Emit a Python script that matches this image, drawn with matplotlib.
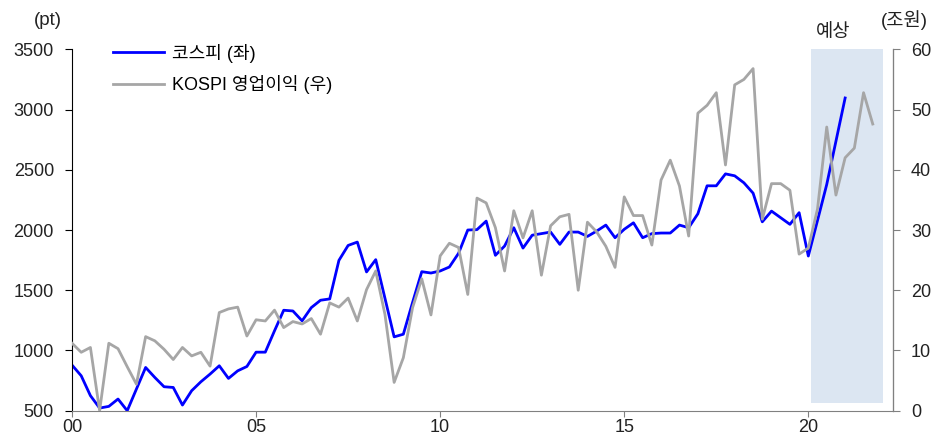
import numpy as np
import matplotlib.pyplot as plt

plt.rcParams['font.family'] = ['Liberation Sans', 'Noto Sans CJK KR', 'DejaVu Sans']

# quarterly, 2000Q1 onwards
kospi = [879, 790, 625, 522, 536, 597, 500, 680, 859, 776, 699, 693, 547, 666, 740, 804,
         873, 768, 831, 867, 986, 986, 1163, 1334, 1328, 1246, 1356, 1417, 1428, 1748, 1872, 1900,
         1652, 1754, 1434, 1113, 1135, 1398, 1654, 1643, 1660, 1693, 1807, 2000, 2003, 2074, 1790, 1867,
         2019, 1850, 1957, 1970, 1983, 1881, 1983, 1983, 1947, 1991, 2041, 1936, 2006, 2060, 1936, 1970,
         1975, 1975, 2041, 2019, 2135, 2367, 2367, 2466, 2450, 2392, 2306, 2068, 2157, 2102, 2047, 2144,
         1784, 2080, 2378, 2737, 3096]
profit = [11.2, 9.7, 10.5, 0.0, 11.2, 10.3, 7.3, 4.4, 12.3, 11.6, 10.2, 8.5, 10.5, 9.1, 9.7, 7.4,
          16.3, 16.9, 17.2, 12.4, 15.1, 14.9, 16.7, 13.8, 14.8, 14.4, 15.3, 12.7, 17.9, 17.2, 18.7, 14.9,
          20.1, 23.2, 16.0, 4.7, 8.8, 17.1, 21.9, 15.9, 25.7, 27.8, 27.1, 19.3, 35.3, 34.5, 30.4, 23.2,
          33.2, 28.7, 33.2, 22.5, 30.7, 32.2, 32.6, 20.0, 31.3, 29.7, 27.3, 23.8, 35.5, 32.4, 32.4, 27.5,
          38.3, 41.6, 37.3, 29.0, 49.4, 50.7, 52.8, 40.8, 54.1, 55.0, 56.8, 31.8, 37.7, 37.7, 36.6, 26.0,
          27.0, 33.5, 47.1, 35.8, 42.0, 43.6, 52.8, 47.6]
xtick_pos = [0, 5, 10, 15, 20]
xtick_labels = ['00', '05', '10', '15', '20']

BLUE = '#0000FF'
GRAY = '#A6A6A6'
AXGRAY = '#808080'
TXT = '#222222'

x_k = np.arange(len(kospi)) / 4
x_p = np.arange(len(profit)) / 4

fig = plt.figure(figsize=(9.4, 4.38), dpi=100)
ax = fig.add_axes([0.0766, 0.0623, 0.8734, 0.8251])
ax2 = ax.twinx()

# forecast band
ax.axvspan(20.08, 22.04, ymin=0.02, ymax=1, color='#DCE6F2', lw=0, zorder=0)

l1, = ax.plot(x_k, kospi, color=BLUE, lw=2.0, label='코스피 (좌)')
l2, = ax2.plot(x_p, profit, color=GRAY, lw=2.0, label='KOSPI 영업이익 (우)')

ax.set_xlim(0, 22.3)
ax.set_ylim(500, 3500)
ax2.set_ylim(0, 60)
ax.set_yticks(range(500, 3501, 500))
ax2.set_yticks(range(0, 61, 10))
ax.set_xticks(xtick_pos)
ax.set_xticklabels(xtick_labels)

for a in (ax, ax2):
    a.spines['top'].set_visible(False)
    a.tick_params(labelsize=13, length=5, labelcolor=TXT)
ax.spines['left'].set_color('black')
ax.spines['bottom'].set_color(AXGRAY)
ax2.spines['right'].set_color(AXGRAY)
ax2.spines['left'].set_visible(False)
ax2.spines['bottom'].set_visible(False)
ax.tick_params(axis='x', color=AXGRAY, length=4, pad=2)
ax.tick_params(axis='y', color='black', pad=8)
ax2.tick_params(axis='y', color=AXGRAY, pad=8)

fig.text(0.051, 0.954, '(pt)', fontsize=13.5, ha='center', va='center', color=TXT)
fig.text(0.962, 0.954, '(조원)', fontsize=13.5, ha='center', va='center', color=TXT)
fig.text(0.886, 0.925, '예상', fontsize=13.5, ha='center', va='center', color=TXT)

ax2.legend([l1, l2], [l1.get_label(), l2.get_label()], loc='upper left',
           bbox_to_anchor=(0.039, 1.041), frameon=False, fontsize=13, borderpad=0,
           handlelength=2.8, handletextpad=0.45, labelspacing=0.7)

fig.savefig('out.png', dpi=100)
